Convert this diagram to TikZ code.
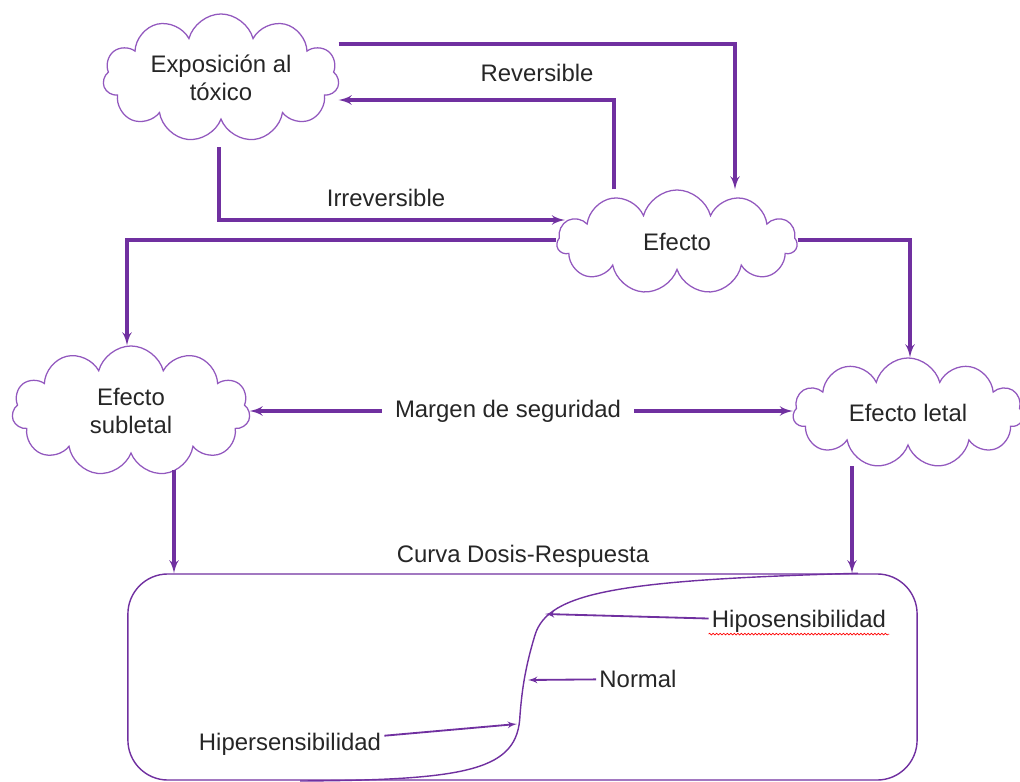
\documentclass[tikz,border=0pt]{standalone}
\usepackage{fontspec}
\setmainfont{Liberation Sans}
\usetikzlibrary{arrows,positioning,shapes.symbols,decorations.pathmorphing}
\definecolor{violeta}{RGB}{112,48,160}
\definecolor{nube}{RGB}{146,88,190}

\begin{document}
\begin{tikzpicture}[x=0.025cm, y=-0.025cm, >=latex', thick,
    cloud node/.style={cloud, cloud puffs=11, cloud ignores aspect, draw=nube, line width=0.9pt, align=center, font=\fontsize{17}{20}\selectfont, inner sep=0pt},
    label node/.style={font=\fontsize{17}{20}\selectfont, inner sep=2pt},
    flow/.style={->, draw=violeta, line width=2.2pt},
    thin flow/.style={->, draw=violeta, line width=1.3pt},
    every node/.style={text=black!85}]
    \useasboundingbox (0,0) rectangle (1020,782);

    % clouds
    \node[cloud node, minimum width=5.9cm, minimum height=3.2cm] (expo) at (221,78) {Exposición al\\tóxico};
    \node[cloud node, minimum width=6cm, minimum height=2.6cm] (efecto) at (677,242) {Efecto};
    \node[cloud node, minimum width=5.95cm, minimum height=3.25cm] (subl) at (131,411) {Efecto\\subletal};
    \node[cloud node, minimum width=5.75cm, minimum height=2.75cm] (letal) at (908,413) {Efecto letal};

    % dose-response box
    \node[draw=violeta, line width=1pt, rounded corners=1cm, minimum width=19.725cm, minimum height=5.15cm] (curva) at (522.5,677) {};
    \node[label node] (titulo) at (523,556) {Curva Dosis-Respuesta};

    % labels
    \node[label node] (rev) at (537,73) {Reversible};
    \node[label node] (irrev) at (386,198) {Irreversible};
    \node[label node, inner xsep=9pt] (margen) at (508,411) {Margen de seguridad};
    \node[label node] (hipo) at (799,621) {Hiposensibilidad};
    \node[label node] (normal) at (638,679) {Normal};
    \node[label node] (hiper) at (290,744) {Hipersensibilidad};

    \draw[flow] (expo.east |- 0,44) -| (efecto.north -| 735,0);
    \draw[flow] (efecto.north -| 614,0) |- (expo.east |- 0,100);
    \draw[flow, shorten >=-6pt] ([yshift=-19pt]expo.south -| 219,0) |- (efecto.west |- 0,220);
    \draw[flow] (efecto.west |- 0,240) -| (subl.north -| 127,0);
    \draw[flow] (efecto.east |- 0,240) -| (letal.north -| 910,0);
    \draw[flow] (margen) -- (subl.east |- margen);
    \draw[flow] (margen) -- (letal.west |- margen);
    \draw[flow] ([yshift=-11pt]subl.south -| 174,0) -- (curva.north -| 174,0);
    \draw[flow] ([yshift=-14pt]letal.south -| 852,0) -- (curva.north -| 852,0);

    % S curve
    \draw[violeta, line width=1pt] (curva.north -| 858,0) .. controls (620,580) and (548,592) .. (535,635)
        .. controls (525,668) and (522,690) .. (520,715)
        .. controls (518,770) and (470,780) .. (300,781);
    \coordinate (pHipo) at (545,614);
    \coordinate (pNormal) at (528,680);
    \coordinate (pHiper) at (517,724);
    \draw[thin flow] (hipo) -- (pHipo);
    \draw[thin flow] (normal) -- (pNormal);
    \draw[thin flow] (hiper) -- (pHiper);
    \draw[red, line width=0.5pt, decorate, decoration={snake, amplitude=0.6pt, segment length=2.5pt}] ([yshift=1pt]hipo.south west) -- ([yshift=1pt]hipo.south east);
\end{tikzpicture}
\end{document}
